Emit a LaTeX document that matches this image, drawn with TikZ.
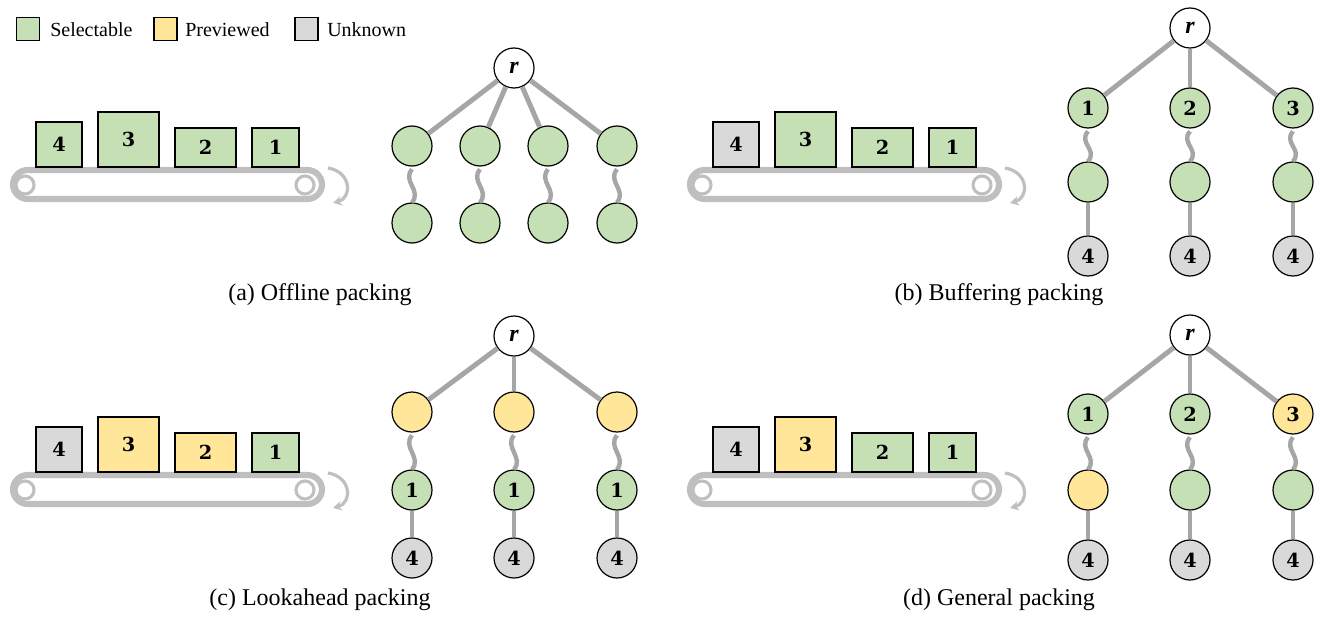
\documentclass[tikz,border=0pt]{standalone}
\usepackage{fontspec}
\setmainfont{Liberation Serif}
\newfontfamily\digitfont{DejaVu Serif}
\usetikzlibrary{arrows.meta}

\definecolor{selgreen}{HTML}{C5E0B4}
\definecolor{prevyellow}{HTML}{FFE699}
\definecolor{unkgray}{HTML}{D9D9D9}
\definecolor{edgegray}{HTML}{A6A6A6}
\definecolor{beltgray}{HTML}{BFBFBF}

\tikzset{
  tnode/.style = {circle, draw=black, line width=0.9pt, minimum size=30pt, inner sep=0pt,
                  font=\digitfont\bfseries\fontsize{14.5}{14.5}\selectfont},
  sel/.style   = {tnode, fill=selgreen},
  prev/.style  = {tnode, fill=prevyellow},
  unk/.style   = {tnode, fill=unkgray},
  rootnode/.style = {tnode, fill=white, font=\fontsize{18}{18}\selectfont\bfseries\itshape},
  branch/.style = {draw=edgegray, line width=3.7pt},
  squig/.style  = {draw=edgegray, line width=3.3pt},
  belt/.style   = {draw=beltgray, line width=4.6pt, rounded corners=11pt, fill=white},
  roller/.style = {draw=beltgray, line width=2.3pt},
  turn/.style   = {draw=beltgray, line width=2.4pt, -{Stealth[length=6.5pt,width=7pt]}},
  pkg/.style    = {draw=black, line width=0.8pt, anchor=south, inner sep=0pt,
                   font=\digitfont\bfseries\fontsize{14.5}{14.5}\selectfont},
  legbox/.style = {draw=black, line width=1.1pt, minimum size=17pt, inner sep=0pt},
  legtext/.style = {anchor=west, inner sep=0pt, font=\fontsize{15}{15}\selectfont},
  subcap/.style  = {font=\fontsize{18}{18}\selectfont}
}

% conveyor with four items; #1 prefix, #2..#5 fills of items 4,3,2,1
\newcommand{\beltrow}[5]{%
  \draw[belt] (13,170) rectangle (322,199);
  \draw[roller] (25,185) circle[radius=9];
  \draw[roller] (305,185) circle[radius=9];
  \draw[turn] (328,168) .. controls (352,172) and (352,198) .. (333,203);
  \node[pkg, fill=#2, minimum width=34.5pt,  minimum height=33.75pt] (#1-p4) at (59,167.5)    {4};
  \node[pkg, fill=#3, minimum width=45.75pt, minimum height=41.25pt] (#1-p3) at (128.5,167.5) {3};
  \node[pkg, fill=#4, minimum width=45.75pt, minimum height=29.25pt] (#1-p2) at (205.5,167.5) {2};
  \node[pkg, fill=#5, minimum width=35.25pt, minimum height=29.25pt] (#1-p1) at (275.5,167.5) {1};
}

\begin{document}
\begin{tikzpicture}[x=0.75pt, y=-0.75pt]
  \useasboundingbox (0,0) rectangle (1320,617);

  % legend
  \node[legbox, fill=selgreen]   (lg-sel)  at (28,29)    {};
  \node[legtext] (lg-sel-t)  at (50,30)  {Selectable};
  \node[legbox, fill=prevyellow] (lg-prev) at (165.5,29) {};
  \node[legtext] (lg-prev-t) at (185,30) {Previewed};
  \node[legbox, fill=unkgray]    (lg-unk)  at (306.5,29) {};
  \node[legtext] (lg-unk-t)  at (327,30) {Unknown};

  % (a) offline
  \beltrow{a}{selgreen}{selgreen}{selgreen}{selgreen}
  \node[rootnode] (a-r) at (514,68) {r};
  \foreach \i/\x in {1/412,2/480,3/548,4/617}{
    \node[sel] (a-u\i) at (\x,146) {};
    \node[sel] (a-v\i) at (\x,223) {};
    \draw[branch] (a-r) -- (a-u\i);
    \draw[squig] ([yshift=-2pt]a-u\i.south) .. controls +(-10,12) and +(10,-12) .. (a-v\i.north);
  }
  \node[subcap] (cap-a) at (320,295) {(a) Offline packing};

  % (b) buffering
  \begin{scope}[shift={(677,0)}]
    \beltrow{b}{unkgray}{selgreen}{selgreen}{selgreen}
  \end{scope}
  \node[rootnode] (b-r) at (1190,28) {r};
  \foreach \i/\x in {1/1088,2/1190,3/1293}{
    \node[sel] (b-u\i) at (\x,108) {\i};
    \node[sel] (b-v\i) at (\x,182) {};
    \node[unk] (b-w\i) at (\x,256) {4};
    \draw[branch] (b-r) -- (b-u\i);
    \draw[squig] ([yshift=-2pt]b-u\i.south) .. controls +(-10,12) and +(10,-12) .. (b-v\i.north);
    \draw[branch] (b-v\i) -- (b-w\i);
  }
  \node[subcap] (cap-b) at (999,295) {(b) Buffering packing};

  % (c) lookahead
  \begin{scope}[shift={(0,305)}]
    \beltrow{c}{unkgray}{prevyellow}{prevyellow}{selgreen}
  \end{scope}
  \node[rootnode] (c-r) at (514,336) {r};
  \foreach \i/\x in {1/412,2/514,3/617}{
    \node[prev] (c-u\i) at (\x,412) {};
    \node[sel]  (c-v\i) at (\x,490) {1};
    \node[unk]  (c-w\i) at (\x,558) {4};
    \draw[branch] (c-r) -- (c-u\i);
    \draw[squig] ([yshift=-2pt]c-u\i.south) .. controls +(-10,12) and +(10,-12) .. (c-v\i.north);
    \draw[branch] (c-v\i) -- (c-w\i);
  }
  \node[subcap] (cap-c) at (320,600) {(c) Lookahead packing};

  % (d) general
  \begin{scope}[shift={(677,305)}]
    \beltrow{d}{unkgray}{prevyellow}{selgreen}{selgreen}
  \end{scope}
  \node[rootnode] (d-r) at (1190,335) {r};
  \node[sel]  (d-u1) at (1088,414) {1};
  \node[sel]  (d-u2) at (1190,414) {2};
  \node[prev] (d-u3) at (1293,414) {3};
  \node[prev] (d-v1) at (1088,490) {};
  \node[sel]  (d-v2) at (1190,490) {};
  \node[sel]  (d-v3) at (1293,490) {};
  \foreach \i/\x in {1/1088,2/1190,3/1293}{
    \node[unk] (d-w\i) at (\x,560) {4};
    \draw[branch] (d-r) -- (d-u\i);
    \draw[squig] ([yshift=-2pt]d-u\i.south) .. controls +(-10,12) and +(10,-12) .. (d-v\i.north);
    \draw[branch] (d-v\i) -- (d-w\i);
  }
  \node[subcap] (cap-d) at (999,600) {(d) General packing};
\end{tikzpicture}
\end{document}
